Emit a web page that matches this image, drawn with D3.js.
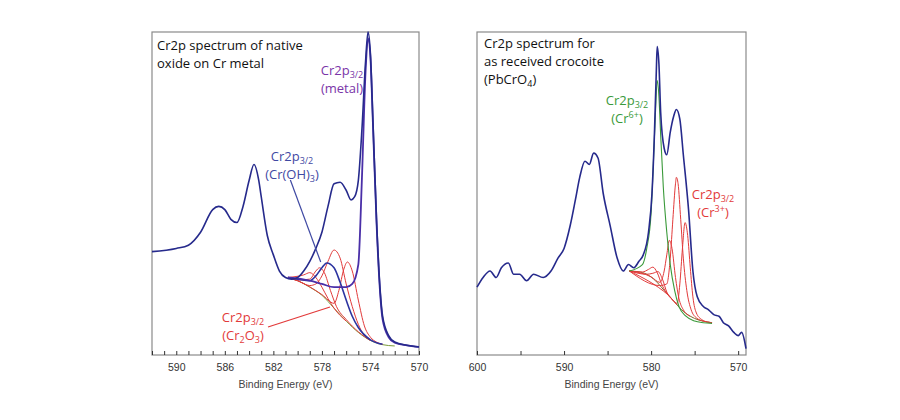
<!DOCTYPE html>
<html><head><meta charset="utf-8">
<script src="https://cdn.jsdelivr.net/npm/d3@7"></script>
<style>body{margin:0;background:#fff}svg{display:block}</style>
</head><body><svg id="c" width="900" height="420"></svg>
<script>
// ---------- Left panel data: [binding energy eV, intensity a.u.] ----------
const leftTicks = [590, 586, 582, 578, 574, 570];
const leftEnvelope = [[592,32],[590,33],[589,34],[588,38],[587,45],[586.5,46],[586,45],[585.5,42],[585,41],[584.5,46],[584,54],[583.6,59],[583.2,54],[583,49],[582.5,37],[582,31],[581.5,26],[581,24],[580.5,23.5],[580,24],[579.5,26],[579,29],[578.5,33],[578,38],[577.5,46],[577,53],[576.5,53.5],[576,51],[575.6,48],[575.3,49],[575,54],[574.7,70],[574.4,91],[574.2,100],[574,93],[573.8,73],[573.5,42],[573.2,20],[573,12],[572.5,6],[572,4],[571,3],[570,2.5]];
const leftBackground = [[580.8,24],[580,23],[579,21],[578,18.5],[577,14.5],[576,10.5],[575,7],[574,4.5],[573,3.2],[572,2.8]];
const leftMetal = [[580.8,24],[579,23],[578,22],[577,21],[576,21],[575.5,22],[575,28],[574.7,55],[574.4,88],[574.2,98],[574,92],[573.8,72],[573.5,41],[573.2,19],[573,11],[572.5,5.5],[572,3.8],[571,3],[570,2.5]];
const leftHydroxide = [[580.8,24],[580,23.5],[579,23],[578.5,24.5],[578,27],[577.6,28.5],[577,27],[576.5,22.5],[576,17],[575.5,12],[575,8.5],[574,4.7],[573,3.3]];
const leftOxide = [
  [[580.8,24],[580.3,24.2],[579.5,24.8],[579,25.5],[578.5,24],[578,21],[577.5,17.5],[577,14.5],[576,10.5]],
  [[580.8,24],[580,23.2],[579,23.5],[578.5,26],[578.2,27],[577.8,25.5],[577.3,20],[576.8,15],[576,11],[575,7.2],[574,4.5]],
  [[580.8,24],[580,23],[579,21.5],[578.5,22],[578,24.5],[577.5,29],[577,32.5],[576.5,30],[576,22],[575.5,15],[575,9.5],[574.5,6],[574,4.6]],
  [[580.8,24],[580,23],[578,18.7],[577,16],[576.6,20],[576.2,26.5],[575.9,28.8],[575.5,26],[575,17],[574.5,9],[574,5.5],[573.5,4],[573,3.3]]
];
// ---------- Right panel data ----------
const rightTicks = [600, 590, 580, 570];
const rightEnvelope = [[600,21],[599.3,24],[598.5,26],[597.8,24],[597.2,27],[596.4,28.5],[595.8,25],[595.1,25],[594.3,23],[593.5,25],[592.4,24],[591.5,26],[590.7,30],[590,33],[589.3,40],[588.7,48],[588.2,55],[587.6,60],[587.1,59],[586.6,62.5],[586.1,61],[585.5,50],[584.7,40],[583.9,30],[583.2,26],[582.6,28],[582,27],[581.4,29],[580.9,31],[580.3,38],[579.9,50],[579.6,70],[579.4,88],[579.3,95.5],[579.1,90],[578.9,75],[578.5,64],[578.2,62],[577.8,69],[577.4,74],[577.1,76],[576.7,73],[576.3,62],[575.7,45],[575.2,26],[574.7,18],[574,15],[573.4,14],[572.8,12.5],[572.2,12],[571.7,10],[571.1,9],[570.5,7],[570,6],[569.6,7],[569.1,2]];
const rightBackground = [[582.5,26],[581.5,25.8],[580.5,25],[579.5,23],[578.5,20],[577.5,17],[576.5,14],[575.5,12],[574.5,10.8],[573.5,10.2],[573,10]];
const rightCr6 = [[582.5,26],[581,28],[580.5,33],[580,44],[579.7,62],[579.5,75],[579.3,85],[579.1,80],[578.9,68],[578.6,52],[578.2,38],[577.8,28],[577.3,20],[576.8,15],[576,12],[575,10.5],[574,10],[573,9.8]];
const rightCr3 = [
  [[582.5,26],[581,25.7],[580.3,26.5],[579.8,27.2],[579.3,25.5],[578.8,22],[578.3,19.5],[577.5,17]],
  [[582.5,26],[580.5,25],[579.8,25.3],[579.2,25.8],[578.7,23.5],[578.2,19.5],[577.5,17],[577,15.5]],
  [[582.5,26],[580,24.2],[579,22.5],[578.5,26],[578.2,31],[577.9,35.5],[577.6,33],[577.2,24],[576.8,17.5],[576.3,14],[575.5,12]],
  [[582.5,26],[579,21.5],[578.2,22],[577.8,30],[577.5,42],[577.2,53],[577.1,55],[576.9,53],[576.6,42],[576.3,30],[575.9,20],[575.4,14],[574.8,11.5],[574,10.5],[573,10]],
  [[582.5,26],[578,18.5],[577,16],[576.7,22],[576.4,33],[576.1,41],[575.8,37],[575.5,27],[575.2,18],[574.8,13],[574.2,11],[573.5,10.2],[573,10]]
];

const svg = d3.select("#c");
const NAVY = "#262a8c", RED = "#e23a3a", GREEN = "#3a9a3a", PURPLE = "#7a35a8", BLUE = "#3f49a3";

function panel(x0, x1, dom, ticks, minorStep) {
  const top = 32, bot = 355;
  const x = d3.scaleLinear().domain(dom).range([x0, x1]);
  const y = d3.scaleLinear().domain([0, 100]).range([bot, top]);
  const g = svg.append("g");
  g.append("rect").attr("x", x0).attr("y", top).attr("width", x1 - x0).attr("height", bot - top)
    .attr("fill", "none").attr("stroke", "#8a8a8a").attr("stroke-width", 1.2);
  const minor = d3.range(Math.ceil(dom[1]), Math.floor(dom[0]) + 0.001, minorStep);
  const ax = g.append("g").attr("transform", `translate(0,${bot})`)
    .call(d3.axisBottom(x).tickValues(minor).tickSize(-4).tickFormat(""));
  ax.select(".domain").remove();
  ax.selectAll("line").attr("stroke", "#333");
  const lab = g.append("g").attr("transform", `translate(0,${bot})`)
    .call(d3.axisBottom(x).tickValues(ticks).tickSize(0).tickPadding(9).tickFormat(d3.format("d")));
  lab.select(".domain").remove();
  lab.selectAll("text").attr("font-family", "Liberation Sans, Arial").attr("font-size", 10.5).attr("fill", "#333");
  g.append("text").attr("x", (x0 + x1) / 2).attr("y", 388).attr("text-anchor", "middle")
    .attr("font-family", "Liberation Sans, Arial").attr("font-size", 10.5).attr("fill", "#444").text("Binding Energy (eV)");
  const line = d3.line().x(d => x(d[0])).y(d => y(d[1])).curve(d3.curveMonotoneX);
  const draw = (data, color, w) => g.append("path").attr("d", line(data)).attr("fill", "none")
    .attr("stroke", color).attr("stroke-width", w).attr("stroke-linejoin", "round");
  return {g, x, y, draw};
}

function label(g, cx, y, lines, color, anchor) {
  lines.forEach((ln, i) => {
    const t = g.append("text").attr("x", cx).attr("y", y + i * 18).attr("text-anchor", anchor || "middle")
      .attr("font-family", "Open Sans, Liberation Sans").attr("font-size", 13).attr("fill", color);
    ln.forEach(p => {
      const s = t.append("tspan").text(p[0]);
      if (p[1] === "sub") s.attr("font-size", 9).attr("dy", 3);
      if (p[1] === "sup") s.attr("font-size", 9).attr("dy", -5);
      if (p[1] === "back") s.attr("dy", p[2]);
    });
  });
}

// Left panel
const L = panel(152, 419, [592, 570], leftTicks, 1);
L.draw(leftBackground, "#7a9a3a", 1);
leftOxide.forEach(d => L.draw(d, RED, 1));
L.draw(leftHydroxide, "#2c34a0", 1.6);
L.draw(leftMetal, "#4a2fa8", 1.8);
L.draw(leftEnvelope, NAVY, 1.6);
L.g.append("line").attr("x1", L.x(580.6)).attr("y1", 180).attr("x2", L.x(578.1)).attr("y2", 262).attr("stroke", BLUE).attr("stroke-width", 1.2);
L.g.append("line").attr("x1", 268).attr("y1", 327).attr("x2", 330).attr("y2", 307).attr("stroke", RED).attr("stroke-width", 1.2);
label(L.g, 157, 50, [[["Cr2p spectrum of native"]], [["oxide on Cr metal"]]], "#111", "start");
label(L.g, 342, 75, [[["Cr2p"], ["3/2", "sub"]], [["(metal)"]]], PURPLE);
label(L.g, 292, 161, [[["Cr2p"], ["3/2", "sub"]], [["(Cr(OH)"], ["3", "sub"], [")", "back", -3]]], BLUE);
label(L.g, 243, 322, [[["Cr2p"], ["3/2", "sub"]], [["(Cr"], ["2", "sub"], ["O", "back", -3], ["3", "sub"], [")", "back", -3]]], RED);

// Right panel
const R = panel(477, 746, [600, 569.1], rightTicks, 5);
R.draw(rightBackground, "#7a6a2a", 1);
rightCr3.forEach(d => R.draw(d, RED, 1));
R.draw(rightCr6, GREEN, 1.1);
R.draw(rightEnvelope, NAVY, 1.6);
label(R.g, 484, 48, [[["Cr2p spectrum for"]], [["as received crocoite"]], [["(PbCrO"], ["4", "sub"], [")", "back", -3]]], "#111", "start");
label(R.g, 627, 105, [[["Cr2p"], ["3/2", "sub"]], [["(Cr"], ["6+", "sup"], [")", "back", 5]]], GREEN);
label(R.g, 713, 199, [[["Cr2p"], ["3/2", "sub"]], [["(Cr"], ["3+", "sup"], [")", "back", 5]]], RED);
</script></body></html>
